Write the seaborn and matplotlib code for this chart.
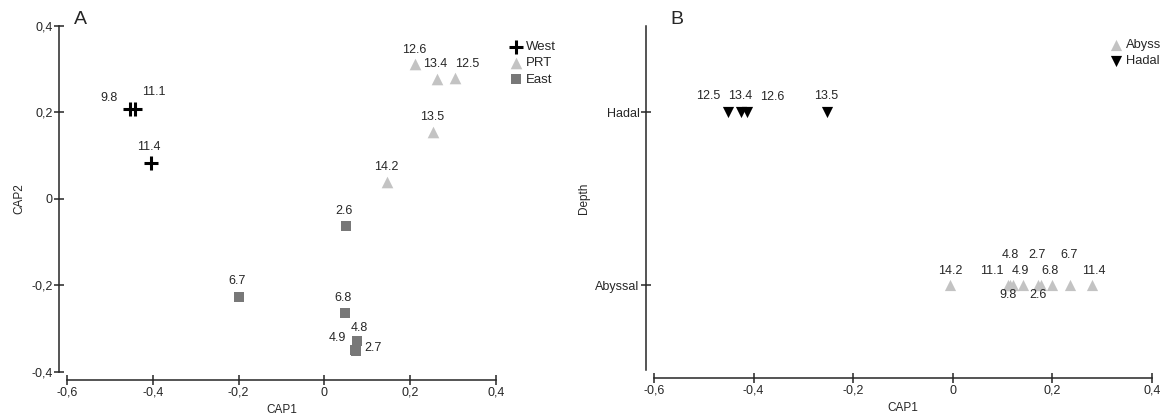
import pandas as pd
import seaborn as sns
from matplotlib import pyplot as plt
from matplotlib.ticker import FuncFormatter

# panel A: CAP ordination by region
west_labels = ["9.8", "11.1", "11.4"]
west_cap1 = [-0.453, -0.442, -0.405]
west_cap2 = [0.209, 0.209, 0.083]

prt_labels = ["12.6", "13.4", "12.5", "13.5", "14.2"]
prt_cap1 = [0.212, 0.263, 0.305, 0.254, 0.146]
prt_cap2 = [0.312, 0.278, 0.280, 0.155, 0.039]

east_labels = ["2.6", "6.7", "6.8", "4.8", "4.9", "2.7"]
east_cap1 = [0.051, -0.200, 0.047, 0.075, 0.072, 0.074]
east_cap2 = [-0.0625, -0.227, -0.264, -0.329, -0.350, -0.352]

# panel B: CAP1 by depth
hadal_labels = ["12.5", "13.4", "12.6", "13.5"]
hadal_cap1 = [-0.452, -0.426, -0.414, -0.253]

abyss_labels = ["14.2", "9.8", "11.1", "4.8", "4.9", "2.6", "2.7", "6.8", "6.7", "11.4"]
abyss_cap1 = [-0.005, 0.110, 0.115, 0.120, 0.140, 0.172, 0.178, 0.200, 0.235, 0.280]

depth_levels = ["Abyssal", "Hadal"]

# label offsets in pixels (dx, dy up)
offsets_a = {"9.8": (-21, 11), "11.1": (19, 17), "11.4": (-2, 16),
             "12.6": (-1, 14), "13.4": (-2, 15), "12.5": (12, 14),
             "13.5": (-1, 15), "14.2": (-1, 15),
             "2.6": (-2, 15), "6.7": (-2, 16), "6.8": (-2, 15),
             "4.8": (3, 13), "4.9": (-18, 12), "2.7": (17, 3)}
offsets_b_hadal = {"12.5": (-20, 16), "13.4": (-1, 16), "12.6": (26, 15), "13.5": (-1, 16)}
offsets_b_abyss = {"14.2": (0, 14), "9.8": (0, -10), "11.1": (-18, 14), "4.8": (-2, 30),
                   "4.9": (-2, 14), "2.6": (0, -10), "2.7": (-4, 30), "6.8": (-2, 14),
                   "6.7": (-1, 30), "11.4": (2, 14)}

# marker styles per group
styles_a = {"West": dict(color="black", marker="+", s=90, linewidth=2.2),
            "PRT": dict(color="#c3c3c3", marker="^", s=70, linewidth=0),
            "East": dict(color="#787878", marker="s", s=42, linewidth=0)}
styles_b = {"Abyss": dict(color="#c3c3c3", marker="^", s=65, linewidth=0),
            "Hadal": dict(color="black", marker="v", s=65, linewidth=0)}


def comma_fmt(v, pos):
    if abs(v) < 1e-9:
        return "0"
    return f"{v:.1f}".replace(".", ",")


def style_axes(ax):
    for side in ["left", "bottom"]:
        ax.spines[side].set_linewidth(1.1)
        ax.spines[side].set_position(("outward", 6))
    ax.tick_params(direction="inout", length=7, width=1.1, labelsize=9, pad=1)


sns.set_style("ticks")
plt.rcParams["font.family"] = ["Liberation Sans", "DejaVu Sans"]

fig = plt.figure(figsize=(11.64, 4.16), dpi=100)
ax_a = fig.add_axes([0.0576, 0.1058, 0.3686, 0.8317])
ax_b = fig.add_axes([0.5619, 0.1106, 0.4278, 0.8269])

df_a = pd.DataFrame({
    "label": west_labels + prt_labels + east_labels,
    "CAP1": west_cap1 + prt_cap1 + east_cap1,
    "CAP2": west_cap2 + prt_cap2 + east_cap2,
    "group": ["West"] * len(west_labels) + ["PRT"] * len(prt_labels) + ["East"] * len(east_labels),
})

for group, kw in styles_a.items():
    sns.scatterplot(data=df_a[df_a["group"] == group], x="CAP1", y="CAP2",
                    label=group, ax=ax_a, **kw)

for _, row in df_a.iterrows():
    dx, dy = offsets_a[row["label"]]
    ax_a.annotate(row["label"], (row["CAP1"], row["CAP2"]), xytext=(dx, dy),
                  textcoords="offset pixels", ha="center", va="center", fontsize=9)

ax_a.set_xlim(-0.6, 0.4)
ax_a.set_ylim(-0.4, 0.4)
ax_a.set_xticks([-0.6, -0.4, -0.2, 0, 0.2, 0.4])
ax_a.set_yticks([-0.4, -0.2, 0, 0.2, 0.4])
ax_a.xaxis.set_major_formatter(FuncFormatter(comma_fmt))
ax_a.yaxis.set_major_formatter(FuncFormatter(comma_fmt))
ax_a.set_xlabel("CAP1", fontsize=8.5)
ax_a.set_ylabel("CAP2", fontsize=8.5)
style_axes(ax_a)
sns.despine(ax=ax_a)
ax_a.legend(loc="upper left", bbox_to_anchor=(511 / 1164, 1 - 41 / 416),
            bbox_transform=fig.transFigure, frameon=False,
            fontsize=9.5, labelspacing=0.3, handlelength=0.8, handletextpad=0.35,
            borderpad=0, borderaxespad=0)

df_b = pd.DataFrame({
    "label": abyss_labels + hadal_labels,
    "CAP1": abyss_cap1 + hadal_cap1,
    "depth": ["Abyssal"] * len(abyss_labels) + ["Hadal"] * len(hadal_labels),
})
df_b["group"] = df_b["depth"].map({"Abyssal": "Abyss", "Hadal": "Hadal"})
df_b["ypos"] = df_b["depth"].map({d: i for i, d in enumerate(depth_levels)})

for group, kw in styles_b.items():
    sns.scatterplot(data=df_b[df_b["group"] == group], x="CAP1", y="ypos",
                    label=group, ax=ax_b, **kw)

for _, row in df_b.iterrows():
    offs = offsets_b_hadal if row["depth"] == "Hadal" else offsets_b_abyss
    dx, dy = offs[row["label"]]
    ax_b.annotate(row["label"], (row["CAP1"], row["ypos"]), xytext=(dx, dy),
                  textcoords="offset pixels", ha="center", va="center", fontsize=9)

ax_b.set_xlim(-0.6, 0.4)
ax_b.set_ylim(-0.49, 1.5)
ax_b.set_xticks([-0.6, -0.4, -0.2, 0, 0.2, 0.4])
ax_b.xaxis.set_major_formatter(FuncFormatter(comma_fmt))
ax_b.set_yticks(range(len(depth_levels)))
ax_b.set_yticklabels(depth_levels)
ax_b.set_xlabel("CAP1", fontsize=8.5)
ax_b.set_ylabel("Depth", fontsize=8.5)
style_axes(ax_b)
sns.despine(ax=ax_b)
ax_b.legend(loc="upper left", bbox_to_anchor=(1111 / 1164, 1 - 39 / 416),
            bbox_transform=fig.transFigure, frameon=False,
            fontsize=9.3, labelspacing=0.3, handlelength=0.8, handletextpad=0.35,
            borderpad=0, borderaxespad=0)

fig.text(74 / 1164, 1 - 20 / 416, "A", fontsize=14, va="center")
fig.text(670 / 1164, 1 - 20 / 416, "B", fontsize=14, va="center")

fig.savefig("out.png", dpi=100)
